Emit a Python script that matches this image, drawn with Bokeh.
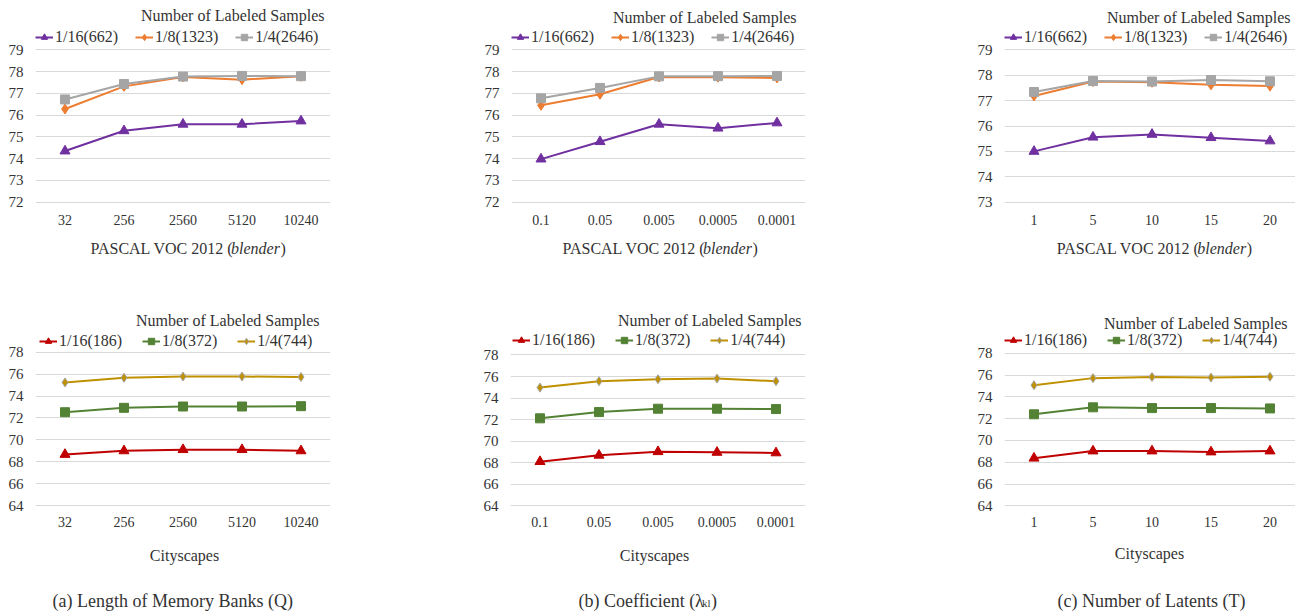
from bokeh.plotting import figure
from bokeh.models import Range1d, FixedTicker, Legend, LegendItem, Label
from bokeh.layouts import column, row
from bokeh.embed import file_html
from bokeh.resources import INLINE

FONT = "Liberation Serif"
TXT = "#333333"

# ---------------- data ----------------
q_labels = ["32", "256", "2560", "5120", "10240"]
kl_labels = ["0.1", "0.05", "0.005", "0.0005", "0.0001"]
t_labels = ["1", "5", "10", "15", "20"]

voc_names = ["1/16(662)", "1/8(1323)", "1/4(2646)"]
city_names = ["1/16(186)", "1/8(372)", "1/4(744)"]

voc_q_116 = [74.35, 75.28, 75.58, 75.58, 75.73]
voc_q_18 = [76.28, 77.32, 77.75, 77.63, 77.78]
voc_q_14 = [76.72, 77.43, 77.77, 77.80, 77.79]

voc_kl_116 = [73.98, 74.78, 75.58, 75.40, 75.64]
voc_kl_18 = [76.45, 76.96, 77.75, 77.74, 77.71]
voc_kl_14 = [76.77, 77.25, 77.78, 77.79, 77.80]

voc_t_116 = [75.00, 75.56, 75.67, 75.54, 75.41]
voc_t_18 = [77.18, 77.75, 77.72, 77.62, 77.57]
voc_t_14 = [77.34, 77.77, 77.75, 77.81, 77.76]

city_q_116 = [68.66, 68.99, 69.10, 69.10, 68.99]
city_q_18 = [72.52, 72.92, 73.04, 73.04, 73.07]
city_q_14 = [75.24, 75.66, 75.78, 75.78, 75.73]

city_kl_116 = [68.10, 68.69, 69.02, 68.96, 68.91]
city_kl_18 = [72.12, 72.70, 73.01, 73.01, 72.98]
city_kl_14 = [74.97, 75.57, 75.75, 75.81, 75.57]

city_t_116 = [68.37, 69.03, 69.03, 68.94, 69.03]
city_t_18 = [72.40, 73.04, 72.97, 72.97, 72.94]
city_t_14 = [75.07, 75.72, 75.83, 75.77, 75.85]

voc_yticks = [72, 73, 74, 75, 76, 77, 78, 79]
voc_t_yticks = [73, 74, 75, 76, 77, 78, 79]
city_yticks = [64, 66, 68, 70, 72, 74, 76, 78]

legend_title = "Number of Labeled Samples"
voc_axis_title = ["PASCAL VOC 2012 (", "blender", ")"]
city_axis_title = "Cityscapes"
captions = ["(a)  Length of Memory Banks (Q)", "(b) Coefficient (\u03bb", "kl", ")",
            "(c) Number of  Latents (T)"]

# ---------------- styles ----------------
voc_styles = [
    dict(color="#7030A0", marker="triangle", size=10, mline="#7030A0"),
    dict(color="#ED7D31", marker="diamond", size=10, mline="#ED7D31"),
    dict(color="#A5A5A5", marker="square", size=9, mline="#A5A5A5"),
]
city_styles = [
    dict(color="#C00000", marker="triangle", size=10, mline="#C00000"),
    dict(color="#548235", marker="square", size=9, mline="#548235"),
    dict(color="#BF9000", marker="diamond", size=9, mline="#A5A5A5"),
]

CELL = 59.0


def make_panel(page_left, page_top, W, H, L, fw, Hf, g_top, g_bot, yticks,
               xlabels, series, names, styles, leg_x, leg_y, leg_spacing,
               title_right, title_y, standoff):
    # g_top / g_bot: pixel rows (page coords) of the top and bottom gridlines
    vtop, vbot = max(yticks), min(yticks)
    a = g_top - page_top
    b = g_bot - page_top
    k = (b - a) / (vtop - vbot)
    y0 = vbot - (Hf - b) / k
    y1 = vtop + a / k
    p = figure(width=W, height=H,
               x_range=Range1d(-0.5, -0.5 + fw / CELL),
               y_range=Range1d(y0, y1),
               min_border_left=L, min_border_right=W - L - fw,
               min_border_top=0, min_border_bottom=H - Hf,
               output_backend="svg", toolbar_location=None, tools="")
    p.outline_line_color = None
    p.background_fill_color = "white"
    p.border_fill_color = "white"
    xs = list(range(len(xlabels)))
    p.xaxis.ticker = FixedTicker(ticks=xs)
    p.xaxis.major_label_overrides = {i: t for i, t in zip(xs, xlabels)}
    p.yaxis.ticker = FixedTicker(ticks=yticks)
    for ax in (p.xaxis, p.yaxis):
        ax.axis_line_color = None
        ax.major_tick_line_color = None
        ax.minor_tick_line_color = None
        ax.major_tick_in = 0
        ax.major_tick_out = 0
        ax.major_label_text_font = FONT
        ax.major_label_text_color = TXT
    p.xaxis.major_label_text_font_size = "14px"
    p.yaxis.major_label_text_font_size = "15px"
    p.xaxis.major_label_standoff = standoff
    p.yaxis.major_label_standoff = 12
    p.xgrid.visible = False
    p.ygrid.grid_line_color = "#D9D9D9"
    p.ygrid.grid_line_width = 1

    items = []
    for vals, name, st in zip(series, names, styles):
        ln = p.line(xs, vals, line_color=st["color"], line_width=2)
        sc = p.scatter(xs, vals, marker=st["marker"], size=st["size"],
                       fill_color=st["color"], line_color=st["mline"], line_width=1)
        items.append(LegendItem(label=name, renderers=[ln, sc]))

    frame_left = page_left + L
    frame_bottom = page_top + Hf
    leg = Legend(items=items, orientation="horizontal",
                 location=(max(0, leg_x - frame_left), frame_bottom - (leg_y + 8)),
                 label_text_font=FONT, label_text_font_size="16px",
                 label_text_color=TXT, glyph_width=18, glyph_height=16,
                 label_height=16, label_standoff=2, spacing=leg_spacing,
                 padding=0, margin=0, border_line_color=None,
                 background_fill_alpha=0)
    p.add_layout(leg)
    p.add_layout(Label(x=title_right - frame_left, y=frame_bottom - title_y,
                       x_units="screen", y_units="screen", text=legend_title,
                       text_font=FONT, text_font_size="16px", text_color=TXT,
                       text_align="right", text_baseline="middle"))
    return p


def strip(W, H):
    s = figure(width=W, height=H, x_range=Range1d(0, W), y_range=Range1d(H, 0),
               min_border_left=0, min_border_right=0, min_border_top=0,
               min_border_bottom=0, x_axis_location=None, y_axis_location=None,
               output_backend="svg", toolbar_location=None, tools="")
    s.outline_line_color = None
    s.grid.visible = False
    s.background_fill_color = "white"
    s.border_fill_color = "white"
    return s


def txt(s, top, text, x, y, align="left", size=16, style="normal",
        baseline="middle"):
    s.add_layout(Label(x=x, y=y - top, text=text, text_font=FONT,
                       text_font_size=f"{size}px", text_font_style=style,
                       text_color=TXT, text_align=align, text_baseline=baseline))


# ---------------- top row (page rows 0..236) ----------------
TOP_H = 236
pa = make_panel(0, 0, 432, TOP_H, 35, 295, 203, 49.3, 201.7, voc_yticks,
                q_labels, [voc_q_116, voc_q_18, voc_q_14], voc_names,
                voc_styles, 35, 38.3, 17, 324, 15, 11)
pb = make_panel(432, 0, 432, TOP_H, 79, 294, 203, 49.3, 201.7, voc_yticks,
                kl_labels, [voc_kl_116, voc_kl_18, voc_kl_14], voc_names,
                voc_styles, 502.7, 38.3, 17, 796, 16.7, 11)
pc = make_panel(864, 0, 431, TOP_H, 140, 291, 203, 49.3, 201.7, voc_t_yticks,
                t_labels, [voc_t_116, voc_t_18, voc_t_14], voc_names,
                voc_styles, 997.3, 38.3, 17, 1290, 16.7, 11)

# ---------------- strip with VOC axis titles (page rows 236..300) ----------------
S1_TOP, S1_H = 236, 64
s1 = strip(1295, S1_H)
for x0 in (90, 562, 1056.3):
    txt(s1, S1_TOP, voc_axis_title[0], x0, 248.3)
    txt(s1, S1_TOP, voc_axis_title[1], x0 + 140.5, 248.3, style="italic")
    txt(s1, S1_TOP, voc_axis_title[2], x0 + 190.0, 248.3)

# ---------------- bottom row (page rows 300..540) ----------------
BOT_TOP, BOT_H = 300, 240
qa = make_panel(0, BOT_TOP, 432, BOT_H, 35, 295, 206, 351.7, 505.0, city_yticks,
                q_labels, [city_q_116, city_q_18, city_q_14], city_names,
                city_styles, 39, 341.7, 20, 319, 320, 10)
qb = make_panel(432, BOT_TOP, 432, BOT_H, 78, 295, 208, 355.0, 507.3, city_yticks,
                kl_labels, [city_kl_116, city_kl_18, city_kl_14], city_names,
                city_styles, 512, 343.3, 20, 801, 322, 10)
qc = make_panel(864, BOT_TOP, 431, BOT_H, 140, 291, 208, 353.3, 507.3, city_yticks,
                t_labels, [city_t_116, city_t_18, city_t_14], city_names,
                city_styles, 1000, 342.7, 20, 1287, 325, 10)

# ---------------- strip with Cityscapes titles and captions (540..612) ----------------
S2_TOP, S2_H = 540, 72
s2 = strip(1295, S2_H)
for cx, cy in ((184, 555), (654, 555), (1149, 553)):
    txt(s2, S2_TOP, city_axis_title, cx, cy, align="center")
txt(s2, S2_TOP, captions[0], 52, 600, size=18)
txt(s2, S2_TOP, captions[1], 578, 600, size=18)
txt(s2, S2_TOP, captions[2], 701.5, 602.5, size=11)
txt(s2, S2_TOP, captions[3], 710.5, 600, size=18)
txt(s2, S2_TOP, captions[4], 1057, 600, size=18)

layout = column(row(pa, pb, pc), s1, row(qa, qb, qc), s2)
open("out.html", "w").write(file_html(layout, INLINE))
